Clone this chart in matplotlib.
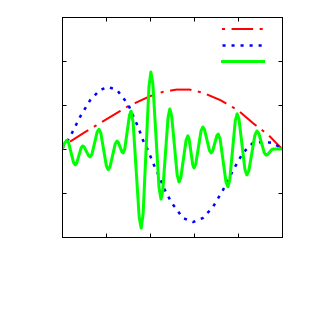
import matplotlib

matplotlib.use("Agg")
import matplotlib.pyplot as plt
from matplotlib.lines import Line2D

# Axis ranges and ticks (no tick labels in the original)
XTICKS = [0, 1, 2, 3, 4, 5]
YTICKS = [-2, -1, 0, 1, 2, 3]

# Red dash-dot curve
red_x = [0.0, 0.5, 1.0, 1.5, 2.0, 2.3, 2.6, 2.9, 3.2, 3.6, 4.0, 4.35, 4.7, 5.0]
red_y = [0.05, 0.37, 0.67, 0.97, 1.20, 1.30, 1.35, 1.35, 1.28, 1.11, 0.88, 0.58, 0.31, 0.0]

# Blue dotted curve
blue_x = [0.0, 0.18, 0.41, 0.64, 0.86, 1.05, 1.25, 1.43, 1.51, 1.61, 1.73, 1.84, 1.96,
          2.07, 2.23, 2.30, 2.49, 2.75, 2.98, 3.20, 3.43, 3.66, 3.89, 4.11, 4.34,
          4.57, 4.80, 5.0]
blue_y = [0.0, 0.27, 0.73, 1.11, 1.34, 1.41, 1.34, 1.11, 1.00, 0.77, 0.50, 0.20, -0.04,
          -0.32, -0.67, -0.86, -1.22, -1.57, -1.66, -1.57, -1.32, -0.93, -0.48, -0.09, 0.14,
          0.16, 0.14, 0.0]

# Green oscillating curve
green_x = [0.0, 0.05, 0.11, 0.148, 0.205, 0.262, 0.30, 0.334, 0.385, 0.436, 0.47,
           0.504, 0.555, 0.606, 0.64, 0.68, 0.74, 0.80, 0.84, 0.882, 0.945, 1.008, 1.05,
           1.09, 1.15, 1.21, 1.25, 1.278, 1.32, 1.362, 1.39, 1.426, 1.48, 1.534, 1.57,
           1.616, 1.685, 1.754, 1.80, 1.844, 1.91, 1.976, 2.02, 2.066, 2.135, 2.204, 2.25,
           2.29, 2.35, 2.41, 2.45, 2.492, 2.555, 2.618, 2.66, 2.70, 2.76, 2.82, 2.86,
           2.888, 2.93, 2.972, 3.00, 3.04, 3.10, 3.16, 3.20, 3.238, 3.295, 3.352, 3.39,
           3.422, 3.47, 3.518, 3.55, 3.594, 3.66, 3.726, 3.77, 3.812, 3.875, 3.938, 3.98,
           4.024, 4.09, 4.156, 4.20, 4.246, 4.315, 4.384, 4.43, 4.472, 4.535, 4.598, 4.64,
           4.672, 4.72, 4.768, 4.80, 4.90, 5.0]
green_y = [0.0, 0.12, 0.20, 0.147, -0.08, -0.307, -0.36, -0.319, -0.145, 0.029, 0.07,
           0.046, -0.055, -0.156, -0.18, -0.12, 0.135, 0.39, 0.45, 0.363, -0.01, -0.383, -0.47,
           -0.408, -0.145, 0.118, 0.18, 0.154, 0.045, -0.064, -0.09, 0.0, 0.385, 0.77, 0.86,
           0.607, -0.47, -1.547, -1.80, -1.463, -0.025, 1.413, 1.75, 1.475, 0.305, -0.865, -1.14,
           -0.945, -0.115, 0.715, 0.91, 0.752, 0.08, -0.592, -0.75, -0.65, -0.225, 0.20, 0.30,
           0.231, -0.065, -0.361, -0.43, -0.342, 0.035, 0.412, 0.50, 0.444, 0.205, -0.034, -0.09,
           -0.049, 0.125, 0.299, 0.34, 0.226, -0.26, -0.746, -0.86, -0.702, -0.03, 0.642, 0.80,
           0.668, 0.105, -0.458, -0.59, -0.495, -0.09, 0.315, 0.41, 0.358, 0.135, -0.088, -0.14,
           -0.127, -0.07, -0.013, 0.0, 0.0, 0.0]

plt.rcParams["lines.scale_dashes"] = False

fig = plt.figure(figsize=(3.14, 3.14), dpi=100)
ax = fig.add_axes([62 / 314, 77 / 314, 220 / 314, 220 / 314])

red_style = dict(color="#ff0000", lw=1.44, linestyle=(0, (2.2, 4.7, 15.5, 4.7)))
blue_style = dict(color="#0000ff", lw=1.8, linestyle=(0, (2.2, 4.3)))
green_style = dict(color="#00ff00", lw=2.16, linestyle="-")

ax.plot(red_x, red_y, **red_style)
ax.plot(blue_x, blue_y, **blue_style)
ax.plot(green_x, green_y, **green_style)

ax.set_xlim(XTICKS[0], XTICKS[-1])
ax.set_ylim(YTICKS[0], YTICKS[-1])
ax.set_xticks(XTICKS)
ax.set_yticks(YTICKS)
ax.tick_params(direction="in", length=3, width=0.72, top=True, right=True,
               labelbottom=False, labelleft=False)
for spine in ax.spines.values():
    spine.set_linewidth(0.72)

handles = [Line2D([], [], **red_style), Line2D([], [], **blue_style),
           Line2D([], [], **green_style)]
ax.legend(handles, [" ", " ", " "], loc="upper left", bbox_to_anchor=(0.727, 0.965),
          frameon=False, fontsize=8, handlelength=41 / 11.1, handletextpad=0.2,
          borderpad=0, borderaxespad=0, labelspacing=0.56)

fig.savefig("out.png", dpi=100)
